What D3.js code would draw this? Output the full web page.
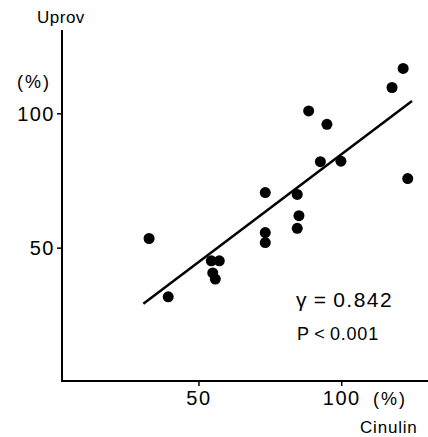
<!DOCTYPE html>
<html><head><meta charset="utf-8">
<script src="https://cdn.jsdelivr.net/npm/d3@7"></script>
<style>body{margin:0;background:#fff}svg{display:block}text{font-family:"Liberation Sans",Arial,sans-serif;fill:#000}</style>
</head><body><svg id="c" width="428" height="437"></svg>
<script>
const cinulin = [32.7,39.4,54.5,57.3,55.0,55.9,73.4,73.4,73.4,84.6,85.2,84.6,92.7,99.9,88.6,95.0,117.8,121.7,123.3];
const uprov   = [53.4,31.7,45.1,45.1,40.6,38.3,70.5,55.6,51.9,69.8,61.9,57.2,82.0,82.2,100.9,95.9,109.6,116.7,75.7];
const fitX = [30.7,124.8];
const fitY = [29.1,104.6];
const xTicks = [50,100];
const yTicks = [50,100];

const svg = d3.select("#c");
const x = d3.scaleLinear().domain([2.2,129]).range([62,424]);
const y = d3.scaleLinear().domain([0,131]).range([382,30]);

// axes
const yAxis = svg.append("g").attr("transform","translate(62,0)")
  .call(d3.axisLeft(y).tickValues(yTicks).tickSize(5).tickFormat(d3.format("d")).tickPadding(2));
yAxis.select(".domain").attr("d",`M0,${y(131)}V${y(0)}`).attr("stroke-width",2);
yAxis.selectAll(".tick line").attr("stroke-width",1.5);
yAxis.selectAll(".tick text").attr("font-size",20).attr("letter-spacing",1.5).attr("dy","0.36em");

const xAxis = svg.append("g").attr("transform",`translate(0,381)`)
  .call(d3.axisBottom(x).tickValues(xTicks).tickSize(5).tickFormat(d3.format("d")).tickPadding(5));
xAxis.select(".domain").attr("d",`M61,0H428`).attr("stroke-width",2);
xAxis.selectAll(".tick line").attr("stroke-width",1.5);
xAxis.selectAll(".tick text").attr("font-size",20).attr("letter-spacing",1.5);

// fit line
svg.append("line").attr("x1",x(fitX[0])).attr("y1",y(fitY[0]))
  .attr("x2",x(fitX[1])).attr("y2",y(fitY[1])).attr("stroke","#000").attr("stroke-width",2.5);

// dots
svg.selectAll("circle.d").data(cinulin.map((v,i)=>[v,uprov[i]])).enter().append("circle")
  .attr("cx",d=>x(d[0])).attr("cy",d=>y(d[1])).attr("r",5.5).attr("fill","#000");

// labels
svg.append("text").attr("x",37).attr("y",23).attr("font-size",17).attr("letter-spacing",0.5).text("Uprov");
svg.append("text").attr("x",17).attr("y",88).attr("font-size",18).attr("letter-spacing",2).text("(%)");
svg.append("text").attr("x",373).attr("y",405).attr("font-size",18).attr("letter-spacing",2).text("(%)");
svg.append("text").attr("x",360).attr("y",433).attr("font-size",17).attr("letter-spacing",0.8).text("Cinulin");
svg.append("text").attr("x",296).attr("y",307).attr("font-size",21).attr("letter-spacing",1.5).text("γ\u2009=\u20090.842");
svg.append("text").attr("x",297).attr("y",340).attr("font-size",18).attr("letter-spacing",0.8).text("P\u2009<\u20090.001");
</script></body></html>
